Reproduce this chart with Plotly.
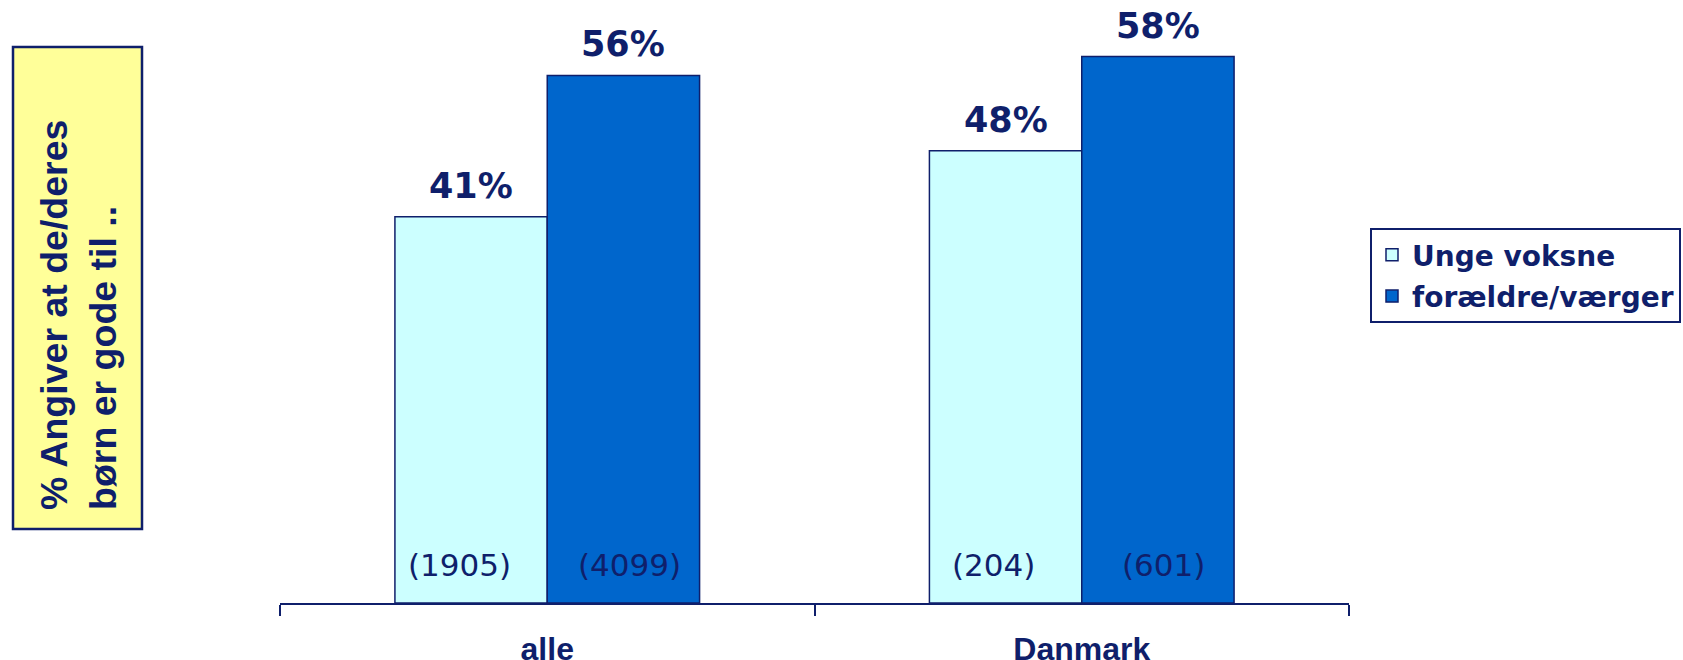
import plotly.graph_objects as go

# ---- data ----
categories = ["alle", "Danmark"]
series_names = ["Unge voksne", "forældre/værger"]
unge_voksne = [41, 48]
foraeldre_vaerger = [56, 58]
n_unge_voksne = [1905, 204]
n_foraeldre_vaerger = [4099, 601]
y_title = "% Angiver at de/deres<br>børn er gode til .."

# ---- style ----
NAVY = "#0F1F6B"
LIGHT = "#CCFFFF"
DARK = "#0066CC"
W, H = 1683, 660
ML, MR, MT, MB = 280, 334, 0, 57
PW, PH = W - ML - MR, H - MT - MB
BARGAP = 0.43
YMAX = 64


def paper_x(px):
    return (px - ML) / PW


def paper_y(py):
    return (H - MB - py) / PH


fig = go.Figure()
fig.add_bar(name=series_names[0], x=categories, y=unge_voksne, legendgroup="g1",
            marker=dict(color=LIGHT, line=dict(color=NAVY, width=1.5)))
fig.add_bar(name=series_names[1], x=categories, y=foraeldre_vaerger, legendgroup="g2",
            marker=dict(color=DARK, line=dict(color=NAVY, width=1.5)))

bw = (1 - BARGAP) / 2
annotations = []
for k, (vals, ns, xs) in enumerate([(unge_voksne, n_unge_voksne, -12),
                                    (foraeldre_vaerger, n_foraeldre_vaerger, 6)]):
    off = (k - 0.5) * bw
    for i, (v, n) in enumerate(zip(vals, ns)):
        annotations.append(dict(x=i + off, y=v, xref="x", yref="y", text=f"{v}%",
                                showarrow=False, yanchor="bottom", yshift=9,
                                font=dict(family="DejaVu Sans", size=35, color=NAVY, weight="bold")))
        annotations.append(dict(x=i + off, y=0, xref="x", yref="y", text=f"({n})",
                                showarrow=False, yanchor="middle", yshift=38, xshift=xs,
                                font=dict(family="DejaVu Sans", size=31, color=NAVY)))

# y-axis title in yellow box
annotations.append(dict(x=paper_x(78), y=paper_y(315), xref="paper", yref="paper",
                        text=y_title, textangle=-90, align="left", showarrow=False,
                        xanchor="center", yanchor="middle",
                        font=dict(family="Liberation Sans, Arial", size=37.5, color=NAVY, weight="bold")))

fig.update_layout(
    width=W, height=H,
    margin=dict(l=ML, r=MR, t=MT, b=MB, autoexpand=False),
    paper_bgcolor="white", plot_bgcolor="white",
    barmode="group", bargap=BARGAP, bargroupgap=0,
    annotations=annotations,
    shapes=[dict(type="rect", xref="paper", yref="paper", layer="below",
                 x0=paper_x(13), x1=paper_x(142), y0=paper_y(529), y1=paper_y(47),
                 fillcolor="#FFFF99", line=dict(color=NAVY, width=2.5))],
    legend=dict(x=paper_x(1370), y=paper_y(228), xanchor="left", yanchor="top",
                bordercolor=NAVY, borderwidth=2, bgcolor="white",
                traceorder="grouped", tracegroupgap=2,
                font=dict(family="DejaVu Sans", size=28, color=NAVY, weight="bold")),
    xaxis=dict(showline=True, linecolor=NAVY, linewidth=1.5, ticks="outside",
               tickson="boundaries", ticklen=11, tickcolor=NAVY, tickwidth=1.5,
               showgrid=False, automargin=False, ticklabelstandoff=17,
               tickfont=dict(family="Liberation Sans, Arial", size=32, color=NAVY, weight="bold")),
    yaxis=dict(visible=False, range=[0, YMAX], showgrid=False),
)

fig.write_html("out.html", config={"displayModeBar": False},
               post_script="document.body.style.margin='0px';")
